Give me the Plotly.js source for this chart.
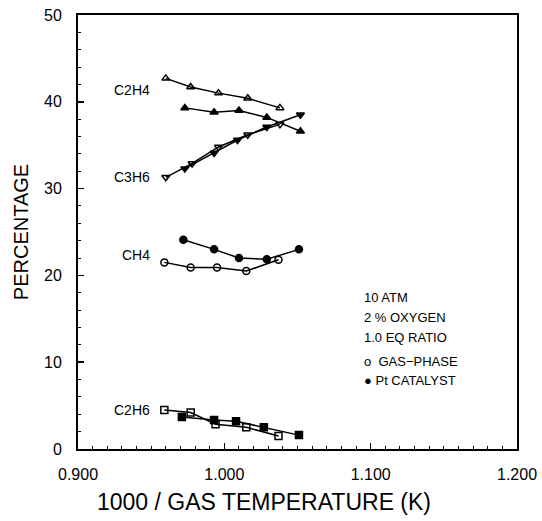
<!DOCTYPE html>
<html>
<head>
<meta charset="utf-8">
<script src="https://cdn.plot.ly/plotly-3.0.1.min.js"></script>
<style>html,body{margin:0;padding:0;background:#fff;}#chart{width:542px;height:521px;}</style>
</head>
<body>
<div id="chart"></div>
<script>
// Data
const gasC2H4_x = [0.960, 0.977, 0.996, 1.016, 1.038];
const gasC2H4_y = [42.7, 41.7, 41.0, 40.4, 39.3];
const catC2H4_x = [0.973, 0.993, 1.010, 1.029, 1.052];
const catC2H4_y = [39.3, 38.8, 39.0, 38.2, 36.6];
const gasC3H6_x = [0.960, 0.978, 0.996, 1.016, 1.038];
const gasC3H6_y = [31.3, 32.9, 34.8, 36.2, 37.4];
const catC3H6_x = [0.973, 0.993, 1.009, 1.029, 1.052];
const catC3H6_y = [32.3, 34.1, 35.6, 37.1, 38.5];
const gasCH4_x = [0.959, 0.977, 0.995, 1.015, 1.037];
const gasCH4_y = [21.5, 20.9, 20.9, 20.5, 21.8];
const catCH4_x = [0.972, 0.993, 1.010, 1.029, 1.051];
const catCH4_y = [24.1, 23.0, 22.0, 21.85, 23.0];
const gasC2H6_x = [0.959, 0.977, 0.994, 1.015, 1.037];
const gasC2H6_y = [4.5, 4.2, 2.85, 2.5, 1.5];
const catC2H6_x = [0.971, 0.993, 1.008, 1.027, 1.051];
const catC2H6_y = [3.7, 3.35, 3.2, 2.5, 1.6];

const speciesLabels = ["C2H4", "C3H6", "CH4", "C2H6"];
const speciesLabelX = [0.9505, 0.9505, 0.9505, 0.9505];
const speciesLabelY = [41.4, 31.3, 22.4, 4.5];
const conditionLines = ["10 ATM", "2 % OXYGEN", "1.0 EQ RATIO"];
const legendLines = ["o  GAS\u2212PHASE", "\u25CF Pt CATALYST"];
const xTickVals = [0.9, 1.0, 1.1, 1.2];
const yTickVals = [0, 10, 20, 30, 40, 50];
const xTitle = "1000 / GAS TEMPERATURE (K)";
const yTitle = "PERCENTAGE";

const FONT = "Liberation Sans, Arial, sans-serif";

function tr(x, y, sym) {
  return {
    x: x, y: y, type: 'scatter', mode: 'lines+markers',
    line: {color: '#000', width: 1.5},
    marker: {symbol: sym, size: 7, color: '#000', line: {color: '#000', width: 1.5}},
    showlegend: false, hoverinfo: 'skip'
  };
}

const data = [
  tr(gasC2H4_x, gasC2H4_y, 'triangle-up-open'),
  tr(catC2H4_x, catC2H4_y, 'triangle-up'),
  tr(gasC3H6_x, gasC3H6_y, 'triangle-down-open'),
  tr(catC3H6_x, catC3H6_y, 'triangle-down'),
  tr(gasCH4_x, gasCH4_y, 'circle-open'),
  tr(catCH4_x, catCH4_y, 'circle'),
  tr(gasC2H6_x, gasC2H6_y, 'square-open'),
  tr(catC2H6_x, catC2H6_y, 'square')
];

const annotations = [];
speciesLabels.forEach((t, i) => annotations.push({
  text: t, x: speciesLabelX[i], y: speciesLabelY[i], xref: 'x', yref: 'y',
  xanchor: 'right', yanchor: 'middle', showarrow: false,
  font: {family: FONT, size: 14, color: '#000'}
}));
const condY = [297, 317, 337];
conditionLines.forEach((t, i) => annotations.push({
  text: t, x: (362 - 78) / 439, y: (449 - condY[i]) / 434, xref: 'paper', yref: 'paper',
  xanchor: 'left', yanchor: 'middle', showarrow: false,
  font: {family: FONT, size: 13, color: '#000'}
}));
const legY = [361, 380];
legendLines.forEach((t, i) => annotations.push({
  text: t, x: (362 - 78) / 439, y: (449 - legY[i]) / 434, xref: 'paper', yref: 'paper',
  xanchor: 'left', yanchor: 'middle', showarrow: false,
  font: {family: FONT, size: 13, color: '#000'}
}));
// x-axis title, placed slightly left of centre as in the reference
annotations.push({
  text: xTitle, x: (264 - 78) / 439, y: (449 - 502) / 434, xref: 'paper', yref: 'paper',
  xanchor: 'center', yanchor: 'middle', showarrow: false,
  font: {family: FONT, size: 23, color: '#000'}
});

const layout = {
  width: 542, height: 521,
  margin: {l: 78, r: 25, t: 15, b: 72},
  paper_bgcolor: '#fff', plot_bgcolor: '#fff',
  showlegend: false,
  font: {family: FONT, color: '#000'},
  xaxis: {
    range: [0.9, 1.2], tickvals: xTickVals, ticktext: xTickVals.map(v => v.toFixed(3)),
    ticks: 'inside', ticklen: 6, tickwidth: 1.5, tickcolor: '#000',
    minor: {dtick: 0.01, tick0: 0.9, ticks: 'inside', ticklen: 3, tickwidth: 1, tickcolor: '#000', showgrid: false},
    showline: true, linecolor: '#000', linewidth: 2, mirror: true,
    showgrid: false, zeroline: false,
    ticklabelstandoff: 10,
    tickfont: {family: FONT, size: 16, color: '#000'}
  },
  yaxis: {
    range: [0, 50], tickvals: yTickVals,
    ticks: 'inside', ticklen: 6, tickwidth: 1.5, tickcolor: '#000',
    minor: {dtick: 2, tick0: 0, ticks: 'inside', ticklen: 3, tickwidth: 1, tickcolor: '#000', showgrid: false},
    showline: true, linecolor: '#000', linewidth: 2, mirror: true,
    showgrid: false, zeroline: false,
    ticklabelstandoff: 11,
    tickfont: {family: FONT, size: 16, color: '#000'},
    title: {text: yTitle, font: {family: FONT, size: 20, color: '#000'}, standoff: 10}
  },
  annotations: annotations
};

Plotly.newPlot('chart', data, layout, {displayModeBar: false, staticPlot: true});
</script>
</body>
</html>
